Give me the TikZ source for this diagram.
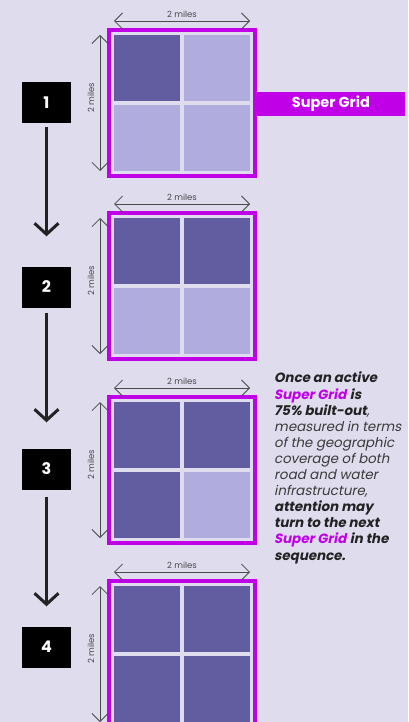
\documentclass[tikz,border=0pt]{standalone}
\usepackage{fontspec}
\setmainfont{Poppins}[ItalicFont=Poppins,ItalicFeatures={FakeSlant=0.2},BoldItalicFont=Poppins Bold,BoldItalicFeatures={FakeSlant=0.2}]
\usetikzlibrary{arrows.meta}
\definecolor{bg}{HTML}{DFDCEE}
\definecolor{dk}{HTML}{625DA1}
\definecolor{lt}{HTML}{B0ACDD}
\definecolor{mag}{HTML}{C000E6}
\definecolor{ink}{HTML}{222222}
\definecolor{soft}{HTML}{3A3A3A}
\definecolor{dim}{HTML}{4A4A4A}
\tikzset{
  cell/.style={minimum width=66pt,minimum height=66pt,inner sep=0pt,draw=none},
  frame/.style={draw=mag,line width=4pt,fill=bg,minimum width=146pt,minimum height=146pt,inner sep=0pt},
  dimline/.style={draw=dim,line width=0.8pt,{Straight Barb[length=8pt,width=16pt]}-{Straight Barb[length=8pt,width=16pt]}},
  dimlabel/.style={text=dim,font=\fontsize{8.5}{10}\selectfont,inner sep=0pt},
  numbox/.style={fill=black,text=white,minimum width=49pt,minimum height=41pt,inner sep=0pt,font=\fontsize{16}{18}\selectfont\bfseries},
  flow/.style={draw=ink,line width=3pt,-{Straight Barb[length=11pt,width=24pt]}},
  banner/.style={fill=mag,text=white,minimum width=148pt,minimum height=24pt,inner sep=0pt,font=\fontsize{14.5}{16}\selectfont\bfseries},
  note/.style={align=left,inner sep=0pt,anchor=north west,text=soft,font=\fontsize{13.4}{16.1}\selectfont\itshape}
}
\begin{document}
\begin{tikzpicture}[x=1pt,y=-1pt]
\fill[bg] (0,0) rectangle (408,722);
\useasboundingbox (0,0) rectangle (408,722);
\foreach \T/\n/\a/\b/\c/\d in {28/1/dk/lt/lt/lt, 211/2/dk/dk/lt/lt, 395/3/dk/dk/dk/lt, 579/4/dk/dk/dk/dk}{
  \node[frame] (f\n) at (182,\T+75) {};
  \node[cell,fill=\a] (c\n a) at (147,\T+40) {};
  \node[cell,fill=\b] (c\n b) at (217,\T+40) {};
  \node[cell,fill=\c] (c\n c) at (147,\T+110) {};
  \node[cell,fill=\d] (c\n d) at (217,\T+110) {};
  \coordinate (h\n l) at (114,\T-7);
  \coordinate (h\n r) at (250,\T-7);
  \draw[dimline] (h\n l) -- (h\n r) node[midway,above=3pt,dimlabel] {2 miles};
  \coordinate (v\n t) at (100,\T+7);
  \coordinate (v\n b) at (100,\T+143);
  \draw[dimline] (v\n t) -- (v\n b);
  \node[dimlabel,rotate=90] (vl\n) at (91,\T+70) {2 miles};
}
\node[numbox] (b1) at (46.5,103) {1};
\node[numbox] (b2) at (46.5,287) {2};
\node[numbox] (b3) at (46.5,469) {3};
\node[numbox] (b4) at (46.5,647) {4};
\draw[flow,shorten <=3.5pt,shorten >=30pt] (b1) -- (b2);
\draw[flow,shorten <=5pt,shorten >=26pt] (b2) -- (b3);
\draw[flow,shorten <=7pt,shorten >=20pt] (b3) -- (b4);
\node[banner] (sg) at (331,104) {Super Grid};
\node[note] (txt) at (274,372) {%
{\bfseries\color{ink}Once an active}\\
{\bfseries\color{mag}Super Grid} {\bfseries\color{ink}is}\\
{\bfseries\color{ink}75\% built-out},\\
measured in terms\\
of the geographic\\
coverage of both\\
road and water\\
infrastructure,\\
{\bfseries\color{ink}attention may}\\
{\bfseries\color{ink}turn to the next}\\
{\bfseries\color{mag}Super Grid} {\bfseries\color{ink}in the}\\
{\bfseries\color{ink}sequence.}};
\end{tikzpicture}
\end{document}
